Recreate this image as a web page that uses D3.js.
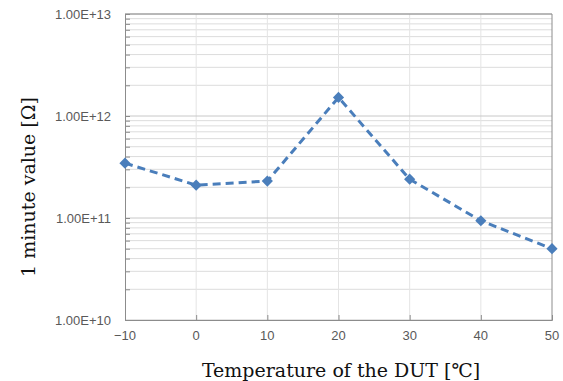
<!DOCTYPE html>
<html><head><meta charset="utf-8">
<script src="https://cdn.jsdelivr.net/npm/d3@7"></script>
<style>body{margin:0;background:#fff}</style>
</head><body>
<svg id="c" width="563" height="381"></svg>
<script>
const temperatures = [-10, 0, 10, 20, 30, 40, 50];
const resistance = [3.45e11, 2.1e11, 2.3e11, 1.52e12, 2.4e11, 9.4e10, 5.0e10];
const xTicks = [-10, 0, 10, 20, 30, 40, 50];
const yTicks = [1e10, 1e11, 1e12, 1e13];
const xTitle = "Temperature of the DUT [\u2103]";
const yTitle = "1 minute value [\u03A9]";

const svg = d3.select("#c");
const m = {l:125, r:552, t:14, b:320};
const x = d3.scaleLinear().domain([-10,50]).range([m.l, m.r]);
const y = d3.scaleLog().domain([1e10,1e13]).range([m.b, m.t]);

// minor gridlines
const minor = [];
[1e10,1e11,1e12].forEach(d => { for (let k=2;k<=9;k++) minor.push(d*k); });
svg.append("g").selectAll("line").data(minor).join("line")
  .attr("x1", m.l).attr("x2", m.r).attr("y1", d=>y(d)).attr("y2", d=>y(d))
  .attr("stroke", "#dcdcdc").attr("stroke-width", 1);
// vertical grid
svg.append("g").selectAll("line").data(xTicks.slice(1,-1)).join("line")
  .attr("x1", d=>x(d)).attr("x2", d=>x(d)).attr("y1", m.t).attr("y2", m.b)
  .attr("stroke", "#e4e4e4").attr("stroke-width", 1);
// major horizontal grid
svg.append("g").selectAll("line").data(yTicks).join("line")
  .attr("x1", m.l).attr("x2", m.r).attr("y1", d=>y(d)).attr("y2", d=>y(d))
  .attr("stroke", "#c8c8c8").attr("stroke-width", 1);

// y axis with minor ticks inward
const yAxis = d3.axisRight(y).tickValues(minor.concat(yTicks)).tickSize(5).tickFormat("");
svg.append("g").attr("transform", `translate(${m.l},0)`).call(yAxis)
  .call(g => { g.select(".domain").attr("stroke", "#8c8c8c"); g.selectAll(".tick line").attr("stroke", "#8c8c8c"); });
// x axis ticks inward
const xAxis = d3.axisTop(x).tickValues(xTicks).tickSize(5).tickFormat("");
svg.append("g").attr("transform", `translate(0,${m.b})`).call(xAxis)
  .call(g => { g.select(".domain").attr("stroke", "#8c8c8c"); g.selectAll(".tick line").attr("stroke", "#8c8c8c"); });
// frame top/right
svg.append("path").attr("d", `M${m.l},${m.t}H${m.r}V${m.b}`).attr("fill","none").attr("stroke","#8c8c8c");

// tick labels
svg.append("g").selectAll("text").data(yTicks).join("text")
  .attr("x", 111).attr("y", d=>y(d)+4.5).attr("text-anchor","end")
  .attr("font-family","'Liberation Sans', Arial, sans-serif").attr("font-size", 13)
  .attr("fill","#595959").text(d => d3.format(".2e")(d).replace("e+","E+"));
svg.append("g").selectAll("text").data(xTicks).join("text")
  .attr("x", d=>x(d)).attr("y", 340).attr("text-anchor","middle")
  .attr("font-family","'Liberation Sans', Arial, sans-serif").attr("font-size", 13)
  .attr("fill","#595959").text(d => d < 0 ? "\u2212" + Math.abs(d) : d);

// titles
svg.append("text").attr("x", 341).attr("y", 377).attr("text-anchor","middle")
  .attr("font-family","'DejaVu Serif',serif").attr("font-size", 19)
  .attr("fill","#111").text(xTitle);
svg.append("text").attr("transform","translate(35,187) rotate(-90)").attr("text-anchor","middle")
  .attr("font-family","'DejaVu Serif',serif").attr("font-size", 19)
  .attr("fill","#111").text(yTitle);

// series
const pts = temperatures.map((t,i)=>[t, resistance[i]]);
svg.append("path").datum(pts)
  .attr("d", d3.line().x(d=>x(d[0])).y(d=>y(d[1])))
  .attr("fill","none").attr("stroke","#4a7ebb").attr("stroke-width",3).attr("stroke-dasharray","8,5");
svg.append("g").selectAll("path").data(pts).join("path")
  .attr("transform", d=>`translate(${x(d[0])},${y(d[1])})`)
  .attr("d", d3.symbol(d3.symbolDiamond2, 80))
  .attr("fill","#4a7ebb");
</script>
</body></html>
